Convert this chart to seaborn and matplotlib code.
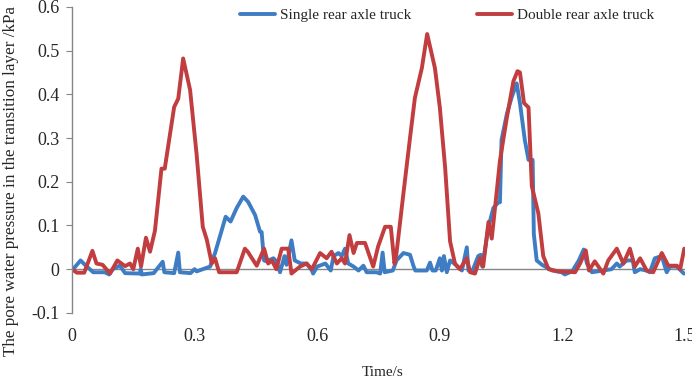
import numpy as np
import pandas as pd
import matplotlib
matplotlib.use("Agg")
import matplotlib.pyplot as plt
import seaborn as sns

# time (s) and pore water pressure (kPa)
t_single = [0.0, 0.021, 0.034, 0.052, 0.08, 0.091, 0.1, 0.117, 0.13, 0.166, 0.168, 0.171,
            0.2, 0.222, 0.226, 0.25, 0.26, 0.264, 0.29, 0.3, 0.305, 0.338, 0.35, 0.362,
            0.376, 0.388, 0.403, 0.419, 0.431, 0.448, 0.46, 0.464, 0.47, 0.476, 0.493, 0.5,
            0.509, 0.52, 0.525, 0.537, 0.545, 0.56, 0.574, 0.587, 0.59, 0.6, 0.62, 0.633,
            0.64, 0.652, 0.66, 0.668, 0.676, 0.689, 0.701, 0.713, 0.721, 0.745, 0.754, 0.76,
            0.765, 0.785, 0.794, 0.811, 0.827, 0.836, 0.84, 0.868, 0.876, 0.882, 0.89, 0.9,
            0.905, 0.91, 0.917, 0.925, 0.935, 0.954, 0.966, 0.97, 0.98, 0.994, 1.0, 1.004,
            1.019, 1.031, 1.043, 1.047, 1.051, 1.064, 1.076, 1.088, 1.096, 1.108, 1.117, 1.127,
            1.13, 1.137, 1.15, 1.175, 1.198, 1.206, 1.218, 1.225, 1.24, 1.252, 1.26, 1.272,
            1.3, 1.32, 1.333, 1.34, 1.357, 1.372, 1.377, 1.39, 1.405, 1.414, 1.426, 1.443,
            1.455, 1.463, 1.48, 1.497]
p_single = [-0.003, 0.02, 0.008, -0.007, -0.007, -0.012, 0.0, 0.008, -0.009, -0.01, 0.0, -0.012,
            -0.009, 0.017, -0.007, -0.009, 0.038, -0.007, -0.009, 0.0, -0.005, 0.006, 0.037, 0.075,
            0.12, 0.109, 0.14, 0.166, 0.154, 0.124, 0.086, 0.085, 0.02, 0.018, 0.025, 0.018,
            -0.007, 0.03, 0.01, 0.066, 0.02, 0.013, 0.013, -0.003, -0.01, 0.006, 0.013, -0.003,
            0.03, 0.037, 0.03, 0.047, 0.013, 0.006, -0.003, 0.008, -0.007, -0.007, -0.01, 0.038,
            -0.007, -0.003, 0.02, 0.037, 0.033, 0.006, -0.003, -0.003, 0.015, -0.003, -0.003, 0.025,
            -0.003, 0.03, -0.007, 0.02, 0.013, -0.003, 0.05, -0.003, -0.003, 0.03, 0.033, 0.006,
            0.097, 0.14, 0.153, 0.153, 0.296, 0.355, 0.394, 0.425, 0.38, 0.295, 0.25, 0.25,
            0.08, 0.02, 0.01, -0.003, -0.007, -0.012, -0.007, -0.003, 0.02, 0.045, 0.013, -0.007,
            -0.003, 0.0, 0.013, 0.006, 0.02, 0.02, -0.007, 0.0, -0.003, -0.007, 0.025, 0.03,
            -0.007, 0.006, 0.006, -0.01]

t_double = [0.0, 0.012, 0.03, 0.05, 0.06, 0.075, 0.093, 0.111, 0.13, 0.142, 0.15, 0.161,
            0.169, 0.181, 0.191, 0.203, 0.219, 0.227, 0.25, 0.26, 0.272, 0.289, 0.305, 0.32,
            0.33, 0.342, 0.35, 0.36, 0.403, 0.423, 0.43, 0.452, 0.47, 0.48, 0.489, 0.5,
            0.513, 0.529, 0.537, 0.558, 0.574, 0.587, 0.607, 0.623, 0.635, 0.648, 0.66, 0.668,
            0.679, 0.689, 0.697, 0.717, 0.737, 0.749, 0.766, 0.78, 0.789, 0.794, 0.811, 0.827,
            0.839, 0.856, 0.869, 0.888, 0.9, 0.913, 0.925, 0.937, 0.949, 0.966, 0.974, 0.986,
            0.998, 1.006, 1.019, 1.027, 1.035, 1.047, 1.064, 1.08, 1.09, 1.096, 1.106, 1.117,
            1.125, 1.141, 1.153, 1.166, 1.19, 1.231, 1.243, 1.257, 1.265, 1.279, 1.3, 1.312,
            1.333, 1.349, 1.365, 1.377, 1.39, 1.406, 1.422, 1.443, 1.459, 1.48, 1.488, 1.498]
p_double = [0.0, -0.008, -0.008, 0.042, 0.013, 0.01, -0.01, 0.02, 0.007, 0.013, 0.0, 0.047,
            0.006, 0.072, 0.04, 0.088, 0.23, 0.23, 0.371, 0.39, 0.482, 0.41, 0.262, 0.097,
            0.067, 0.013, 0.025, -0.007, -0.007, 0.047, 0.04, 0.008, 0.047, 0.013, 0.02, 0.0,
            0.047, 0.047, -0.01, 0.006, 0.013, 0.0, 0.037, 0.025, 0.04, 0.013, 0.025, 0.013,
            0.078, 0.037, 0.06, 0.06, 0.006, 0.052, 0.097, 0.097, 0.013, 0.037, 0.174, 0.30,
            0.392, 0.46, 0.538, 0.46, 0.37, 0.232, 0.064, 0.013, 0.0, 0.025, -0.007, -0.01,
            0.025, 0.006, 0.108, 0.07, 0.14, 0.248, 0.347, 0.43, 0.453, 0.45, 0.38, 0.37,
            0.19, 0.128, 0.03, 0.0, -0.005, -0.007, 0.013, 0.043, -0.003, 0.018, -0.01, 0.02,
            0.047, 0.013, 0.047, 0.006, 0.025, -0.003, -0.007, 0.037, 0.008, 0.008, 0.0, 0.047]

series_names = ["Single rear axle truck", "Double rear axle truck"]
colors = ["#3E7DC3", "#C13D3F"]

df = pd.concat([
    pd.DataFrame({"t": t_single, "p": p_single, "series": series_names[0]}),
    pd.DataFrame({"t": t_double, "p": p_double, "series": series_names[1]}),
])

sns.set_style("white")
plt.rcParams["font.family"] = ["Liberation Serif", "DejaVu Serif"]

fig = plt.figure(figsize=(6.92, 3.83), dpi=100)
ax = fig.add_axes([0.104, 0.183, 0.886, 0.799])

sns.lineplot(data=df, x="t", y="p", hue="series", palette=colors, estimator=None,
             sort=False, linewidth=2.8, ax=ax)
for ln in ax.lines:
    ln.set_solid_joinstyle("round")
    ln.set_solid_capstyle("round")

ax.axhline(0, color="#868686", lw=1, zorder=0)
ax.set_xlim(0, 1.5)
ax.set_ylim(-0.1, 0.6)
ax.set_xticks([0, 0.3, 0.6, 0.9, 1.2, 1.5])
ax.set_xticklabels(["0", "0.3", "0.6", "0.9", "1.2", "1.5"])
ax.set_yticks([-0.1, 0, 0.1, 0.2, 0.3, 0.4, 0.5, 0.6])
ax.set_yticklabels(["-0.1", "0", "0.1", "0.2", "0.3", "0.4", "0.5", "0.6"])

for s in ["top", "right", "bottom"]:
    ax.spines[s].set_visible(False)
ax.spines["left"].set_color("#868686")
ax.spines["left"].set_linewidth(1)
ax.tick_params(axis="y", length=4, color="#868686", labelsize=13, pad=5, left=True)
ax.tick_params(axis="x", length=0, labelsize=13, pad=11)

ax.set_xlabel("Time/s", fontsize=11)
ax.xaxis.set_label_coords(0.507, -0.172)
ax.set_ylabel("The pore water pressure in the transition layer /kPa", fontsize=12.3)
ax.yaxis.set_label_coords(-0.086, 0.43)

leg = ax.legend(loc="upper center", bbox_to_anchor=(0.612, 1.04), ncol=2, frameon=False,
                fontsize=11, handlelength=2.3, columnspacing=4.3, handletextpad=0.3)

fig.savefig("out.png", dpi=100)
